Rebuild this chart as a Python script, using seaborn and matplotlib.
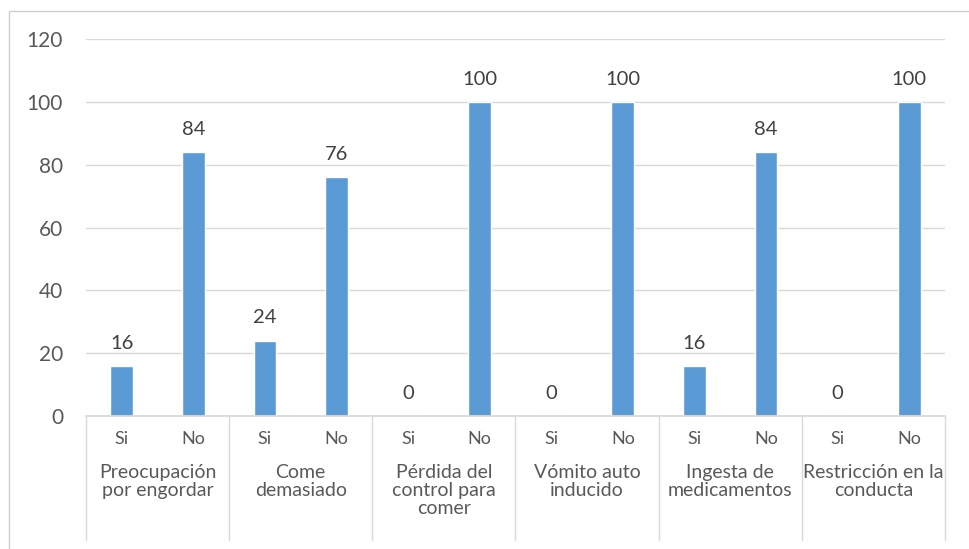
import matplotlib
matplotlib.use("Agg")
import matplotlib.pyplot as plt
import matplotlib.transforms as mtransforms
from matplotlib.patches import Rectangle
import seaborn as sns
import pandas as pd

groups = ["Preocupación\npor engordar", "Come\ndemasiado", "Pérdida del\ncontrol para\ncomer",
          "Vómito auto\ninducido", "Ingesta de\nmedicamentos", "Restricción en la\nconducta"]
answers = ["Si", "No"]
values = [16, 84, 24, 76, 0, 100, 0, 100, 16, 84, 0, 100]

keys, ans_labels = [], []
for gi, g in enumerate(groups):
    for a in answers:
        keys.append(f"{gi}-{a}")
        ans_labels.append(a)
df = pd.DataFrame({"key": keys, "value": values})

sns.set_theme(style="white")
plt.rcParams['font.family'] = ['Lato', 'DejaVu Sans']

fig = plt.figure(figsize=(9.69, 5.49), dpi=100)
ax = fig.add_axes([86/969, 1-416/549, (945-86)/969, (416-39)/549])

sns.barplot(data=df, x="key", y="value", order=keys, color="#5B9BD5",
            width=0.32, ax=ax, saturation=1)

ax.set_ylim(0, 120)
ax.set_xlim(-0.5, len(keys) - 0.5)
ax.set_yticks(range(0, 121, 20))
ax.yaxis.grid(True, color="#d9d9d9", linewidth=1)
ax.set_axisbelow(True)
for s in ["top", "right", "left"]:
    ax.spines[s].set_visible(False)
ax.spines["bottom"].set_color("#d9d9d9")
ax.set_xlabel("")
ax.set_ylabel("")
ax.tick_params(axis="y", length=0, labelsize=15, labelcolor="#595959", pad=16.5)
ax.set_xticks(range(len(keys)))
ax.set_xticklabels(ans_labels)
ax.tick_params(axis="x", length=0, labelsize=13, labelcolor="#595959", pad=11)

for i, v in enumerate(values):
    ax.text(i, v + 4.5, f"{v}", ha="center", va="bottom", fontsize=14.5, color="#404040")

trans = mtransforms.blended_transform_factory(ax.transData, ax.transAxes)
for gi, g in enumerate(groups):
    ax.text(2 * gi + 0.5, -0.128, g, transform=trans, ha="center", va="top",
            fontsize=14, color="#595959", linespacing=1.06)
for b in range(len(groups) + 1):
    ax.plot([2 * b - 0.5, 2 * b - 0.5], [0, -0.33], transform=trans, color="#d9d9d9",
            linewidth=1, clip_on=False)

fig.patches.append(Rectangle((9/969, -0.01), 1.0, 1 - 11/549 + 0.01, transform=fig.transFigure,
                             fill=False, edgecolor="#d0d0d0", linewidth=1))

fig.savefig("out.png", dpi=100)
